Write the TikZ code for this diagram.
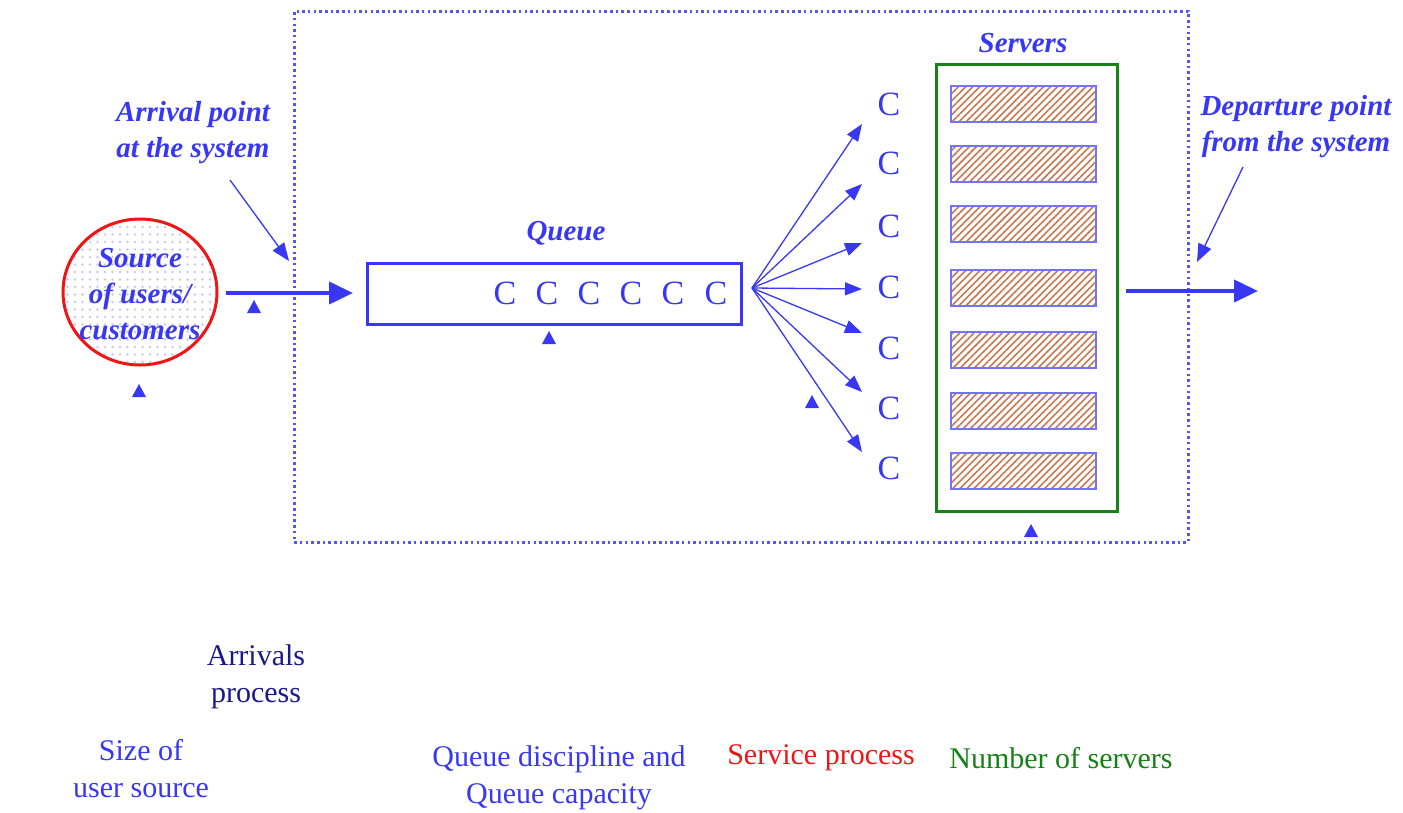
\documentclass[tikz,border=0pt]{standalone}
\usepackage{fontspec}
\setmainfont{Liberation Serif}
\usetikzlibrary{arrows.meta,patterns.meta,shapes.geometric}
\definecolor{qblue}{RGB}{55,55,245}
\definecolor{qnavy}{RGB}{25,25,140}
\definecolor{qred}{RGB}{240,20,20}
\definecolor{qgreen}{RGB}{20,130,20}
\definecolor{qbrown}{RGB}{200,120,80}
\begin{document}
\begin{tikzpicture}[x=1pt,y=-1pt,
  lbl/.style={text=qblue,font=\fontsize{29}{36}\selectfont\bfseries\itshape,align=center,inner sep=0pt},
  cc/.style={text=qblue,font=\fontsize{34}{36}\selectfont,inner sep=0pt},
  note/.style={font=\fontsize{30}{37}\selectfont,align=center,inner sep=0pt},
  bigarrow/.style={qblue,line width=4pt,-{Triangle[length=24pt,width=22pt]}},
  thinarrow/.style={qblue,line width=1.3pt,-{Triangle[length=18pt,width=14pt]}},
  fanarrow/.style={qblue,line width=1.3pt,-{Triangle[length=17pt,width=13pt]}},
  bar/.style={draw=qblue!70,line width=1.2pt,pattern={Lines[angle=45,distance=5pt,line width=1.6pt]},pattern color=qbrown},
  tri/.style={fill=qblue}
]
\useasboundingbox (0,0) rectangle (1403,812);
% system boundary
\node[draw=qblue!85,dash pattern=on 2.5pt off 3.2pt,line width=2.5pt,minimum width=894pt,minimum height=531pt,inner sep=0pt,anchor=north west] (sys) at (293,10) {};
% source
\node[draw=qred,line width=3pt,ellipse,minimum width=154pt,minimum height=146pt,inner sep=0pt,
  pattern={Dots[distance=7.5pt,radius=1.4pt]},pattern color=qblue!28] (src) at (140,292) {};
\node[lbl] at (140,294) {Source\\of users/\\customers};
% arrival label
\node[lbl] (arrlbl) at (193,133) {Arrival point\\at the system};
\coordinate (arrtip) at (289,261);
\draw[thinarrow] (230,180) -- (arrtip);
% queue
\node[draw=qblue,line width=2.5pt,minimum width=374pt,minimum height=61pt,inner sep=0pt,anchor=north west] (queue) at (366,262) {};
\node[lbl] (qlbl) at (566,233) {Queue};
\foreach \x in {505,547,589,631,673,716} \node[cc] at (\x,293) {C};
\coordinate (srcout) at (226,293);
\coordinate (qin) at (353,293);
\draw[bigarrow] (srcout) -- (qin);
% fan
\coordinate (fan) at (752,288);
\foreach \y/\ty [count=\i] in {124/104,184/163,243/226,289/287,333/348,392/408,452/468}{
  \coordinate (t\i) at (862,\y);
  \node[cc] (c\i) at (889,\ty) {C};
  \draw[fanarrow] (fan) -- (t\i);
}
% servers
\node[draw=qgreen,line width=3pt,minimum width=181pt,minimum height=447pt,inner sep=0pt,anchor=north west] (srv) at (935,63) {};
\node[lbl] (srvlbl) at (1023,43) {Servers};
\foreach \y [count=\i] in {104,164,224,288,350,411,471}
  \node[bar,minimum width=145pt,minimum height=36pt,inner sep=0pt] (s\i) at (1023.5,\y) {};
% departure
\coordinate (depstart) at (1126,291);
\coordinate (depend) at (1258,291);
\draw[bigarrow] (depstart) -- (depend);
\node[lbl] (deplbl) at (1296,127) {Departure point\\from the system};
\coordinate (deptip) at (1197,262);
\draw[thinarrow] (1243,167) -- (deptip);
% small triangles
\foreach \x/\y in {254/307,139/391,549/338,812/402,1031/531}
  \fill[tri] (\x-7,\y+6) -- (\x+7,\y+6) -- (\x,\y-7) -- cycle;
% bottom notes
\node[note,text=qnavy] (n1) at (256,677) {Arrivals\\process};
\node[note,text=qblue] (n2) at (141,769) {Size of\\user source};
\node[note,text=qblue] (n3) at (559,778) {Queue discipline and\\Queue capacity};
\node[note,text=qred] (n4) at (821,758) {Service process};
\node[note,text=qgreen] (n5) at (1061,758) {Number of servers};
\end{tikzpicture}
\end{document}
